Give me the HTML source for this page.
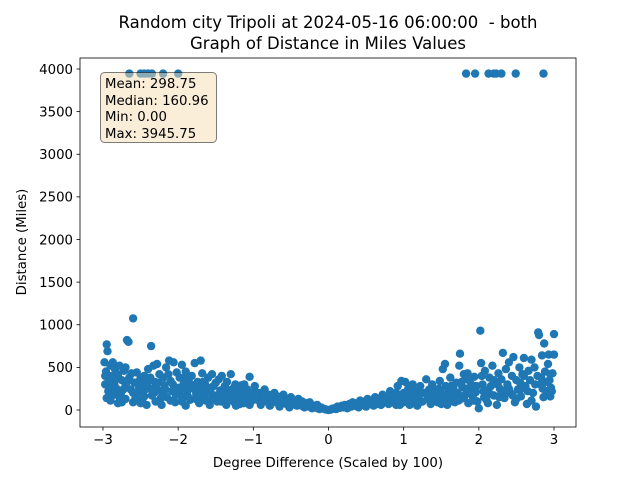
<!DOCTYPE html>
<html><head><meta charset="utf-8"><style>
html,body{margin:0;padding:0;background:#fff}
svg text{font-family:"DejaVu Sans","Liberation Sans",sans-serif;fill:#000}
</style></head><body>
<svg id="chart" width="640" height="480" viewBox="0 0 640 480" xmlns="http://www.w3.org/2000/svg">
<rect x="0" y="0" width="640" height="480" fill="#fff"/>
<text x="328" y="28" font-size="16.5" text-anchor="middle">Random city Tripoli at 2024-05-16 06:00:00&#160; - both</text>
<text x="328" y="49" font-size="16.5" text-anchor="middle">Graph of Distance in Miles Values</text>
<g id="points"></g>
<g id="axes"></g>
<g>
<rect x="100.5" y="72.5" width="116" height="70" rx="4" fill="#f5deb3" fill-opacity="0.5" stroke="#000" stroke-opacity="0.5"/>
<text x="105" y="88" font-size="13.3">Mean: 298.75</text>
<text x="105" y="105" font-size="13.3">Median: 160.96</text>
<text x="105" y="121" font-size="13.3">Min: 0.00</text>
<text x="105" y="138" font-size="13.3">Max: 3945.75</text>
</g>
<text x="328" y="467" font-size="13.3" text-anchor="middle">Degree Difference (Scaled by 100)</text>
<text x="0" y="0" font-size="13.3" text-anchor="middle" transform="translate(26,242) rotate(-90)">Distance (Miles)</text>
</svg>
<script>
const xTicks = [-3,-2,-1,0,1,2,3];
const yTicks = [0,500,1000,1500,2000,2500,3000,3500,4000];
const samples = [
[-2.98,560],[-2.97,300],[-2.96,450],[-2.95,770],[-2.94,690],[-2.93,220],[-2.92,380],[-2.9,520],[-2.9,110],[-2.88,400],[-2.87,560],[-2.85,300],[-2.84,480],[-2.82,250],[-2.8,80],[-2.8,420],[-2.78,520],[-2.76,200],[-2.75,350],[-2.72,460],[-2.7,130],[-2.7,280],[-2.68,820],[-2.66,800],[-2.65,380],[-2.63,240],[-2.6,1075],[-2.6,90],[-2.58,320],[-2.56,180],[-2.55,440],[-2.52,260],[-2.5,370],[-2.48,120],[-2.47,210],[-2.45,400],[-2.43,300],[-2.42,60],[-2.4,480],[-2.38,250],[-2.36,750],[-2.35,170],[-2.33,520],[-2.31,330],[-2.3,100],[-2.28,540],[-2.26,230],[-2.25,420],[-2.22,60],[-2.2,380],[-2.18,290],[-2.16,500],[-2.15,150],[-2.12,580],[-2.1,340],[-2.08,220],[-2.06,560],[-2.04,90],[-2.02,440],[-2.0,260],
[-1.98,380],[-1.96,160],[-1.95,530],[-1.93,300],[-1.9,50],[-1.9,450],[-1.88,220],[-1.86,360],[-1.84,120],[-1.82,400],[-1.8,280],[-1.78,550],[-1.76,180],[-1.74,330],[-1.72,80],[-1.7,580],[-1.7,250],[-1.68,430],[-1.66,140],[-1.64,300],[-1.62,200],[-1.6,380],[-1.58,60],[-1.56,260],[-1.55,420],[-1.52,170],[-1.5,320],[-1.48,100],[-1.46,360],[-1.44,230],[-1.42,400],[-1.4,140],[-1.38,280],[-1.36,60],[-1.35,330],[-1.32,190],[-1.3,420],[-1.28,110],[-1.26,260],[-1.24,300],[-1.22,150],[-1.2,220],[-1.18,70],[-1.16,290],[-1.14,180],[-1.12,300],[-1.1,120],[-1.08,240],[-1.06,90],[-1.05,390],[-1.03,160],[-1.0,200],
[-2.95,140],[-2.9,250],[-2.85,180],[-2.75,90],[-2.7,500],[-2.6,200],[-2.5,80],[-2.45,160],[-2.4,330],[-2.3,270],[-2.2,200],[-2.1,110],[-1.95,100],[-1.85,250],[-1.75,120],[-1.65,220],[-1.55,130],[-1.45,190],[-1.35,240],[-1.25,90],[-1.15,130],[-1.05,60],
[-2.97,400],[-2.93,330],[-2.88,200],[-2.83,360],[-2.78,150],[-2.73,240],[-2.68,330],[-2.62,430],[-2.57,130],[-2.53,330],[-2.44,240],[-2.37,380],[-2.32,200],[-2.27,320],[-2.23,140],[-2.17,240],[-2.13,420],[-2.07,300],[-2.03,180],[-1.97,240],[-1.92,380],[-1.87,160],[-1.83,300],[-1.77,230],[-1.73,180],[-1.67,330],[-1.63,110],[-1.57,200],[-1.53,280],[-1.47,150],[-1.43,100],[-1.37,180],[-1.33,120],[-1.27,200],[-1.23,50],[-1.17,230],[-1.13,80],[-1.07,170],[-1.02,110],
[-0.98,280],[-0.95,120],[-0.93,200],[-0.9,60],[-0.88,150],[-0.85,240],[-0.82,100],[-0.8,180],[-0.78,50],[-0.75,140],[-0.72,200],[-0.7,90],[-0.68,160],[-0.65,40],[-0.62,130],[-0.6,180],[-0.58,80],[-0.55,120],[-0.52,30],[-0.5,150],[-0.48,90],[-0.45,110],[-0.42,50],[-0.4,130],[-0.38,70],[-0.35,100],[-0.32,30],[-0.3,80],[-0.28,60],[-0.25,90],[-0.22,20],[-0.2,50],[-0.18,40],[-0.15,60],[-0.12,10],[-0.1,30],[-0.08,20],[-0.05,10],[-0.03,5],[0,0],[-0.9,160],[-0.7,130],[-0.5,60],[-0.6,100],[-0.8,90],
[-0.96,170],[-0.86,110],[-0.76,100],[-0.66,110],[-0.56,70],[-0.46,70],[-0.36,50],[-0.26,40],[-0.16,25],
[0.03,5],[0.05,15],[0.08,20],[0.1,10],[0.12,40],[0.15,25],[0.18,50],[0.2,30],[0.22,60],[0.25,20],[0.28,70],[0.3,40],[0.32,90],[0.35,50],[0.38,80],[0.4,30],[0.42,110],[0.45,60],[0.48,100],[0.5,40],[0.52,130],[0.55,70],[0.58,110],[0.6,50],[0.62,150],[0.65,90],[0.68,130],[0.7,60],[0.72,180],[0.75,100],[0.78,150],[0.8,70],[0.82,220],[0.85,120],[0.88,170],[0.9,60],[0.92,280],[0.95,130],[0.97,340],[1.0,200],[1.0,90],[0.6,100],[0.7,120],[0.8,160],[0.9,200],[0.95,60],
[0.46,80],[0.56,90],[0.66,70],[0.76,120],[0.86,90],[0.93,110],[0.98,160],
[1.02,330],[1.04,150],[1.06,250],[1.08,60],[1.1,180],[1.12,300],[1.14,110],[1.16,220],[1.18,50],[1.2,160],[1.22,280],[1.25,100],[1.28,200],[1.3,360],[1.32,130],[1.34,240],[1.36,70],[1.38,300],[1.4,170],[1.42,230],[1.45,90],[1.48,340],[1.5,200],[1.52,480],[1.53,130],[1.55,540],[1.56,280],[1.58,60],[1.6,220],[1.62,380],[1.64,150],[1.66,260],[1.68,90],[1.7,320],[1.72,200],[1.74,520],[1.75,660],[1.76,130],[1.78,270],[1.8,420],[1.82,180],[1.84,360],[1.85,430],[1.86,80],[1.88,240],[1.9,300],[1.92,150],[1.94,390],[1.96,210],[1.98,100],[2.0,20],[1.2,80],[1.4,120],[1.6,100],[1.8,140],[1.5,70],[1.7,150],[1.9,200],
[1.05,100],[1.15,150],[1.24,200],[1.33,170],[1.43,150],[1.47,250],[1.57,170],[1.63,280],[1.67,190],[1.73,110],[1.77,330],[1.83,250],[1.87,350],[1.93,110],[1.97,280],
[2.02,930],[2.03,550],[2.05,300],[2.07,150],[2.08,460],[2.1,230],[2.12,80],[2.14,380],[2.16,280],[2.18,520],[2.2,170],[2.22,330],[2.24,60],[2.26,430],[2.28,250],[2.3,360],[2.32,670],[2.34,140],[2.36,480],[2.38,300],[2.4,560],[2.42,200],[2.44,400],[2.46,620],[2.48,90],[2.5,350],[2.52,240],[2.54,500],[2.56,160],[2.58,420],[2.6,610],[2.62,280],[2.64,70],[2.66,460],[2.68,350],[2.7,590],[2.72,200],[2.74,500],[2.76,40],[2.78,400],[2.79,910],[2.8,880],[2.82,300],[2.84,640],[2.86,150],[2.87,780],[2.88,450],[2.9,220],[2.92,540],[2.93,650],[2.94,350],[2.95,420],[2.96,260],[2.98,430],[3.0,890],[3.0,650],[2.1,120],[2.3,200],[2.5,130],[2.7,110],[2.9,180],[2.6,400],[2.4,250],[2.2,350],[2.95,160],
[2.06,220],[2.15,190],[2.25,300],[2.35,230],[2.45,170],[2.55,320],[2.65,220],[2.75,300],[2.85,250],[2.91,330],[2.97,220],[2.04,400],[2.27,150],[2.57,250],[2.83,380]
,
[-2.65,3946],[-2.5,3946],[-2.45,3946],[-2.4,3946],[-2.35,3946],[-2.2,3946],[-2.0,3946],[1.83,3946],[1.95,3946],[2.13,3946],[2.2,3946],[2.23,3946],[2.3,3946],[2.49,3946],[2.86,3946]
];
const NS='http://www.w3.org/2000/svg';
const L=80,R=576,T=58,B=427;
function xs(v){return 328.5+v*75.17;}
function ys(v){return 410-v*0.08525;}
const pg=document.getElementById('points');
samples.forEach(function(p){
  const c=document.createElementNS(NS,'circle');
  c.setAttribute('cx',xs(p[0]).toFixed(1));
  c.setAttribute('cy',ys(p[1]).toFixed(1));
  c.setAttribute('r','4.2');
  c.setAttribute('fill','#1f77b4');
  
  
  pg.appendChild(c);
});
const ax=document.getElementById('axes');
const frame=document.createElementNS(NS,'rect');
frame.setAttribute('x',L);frame.setAttribute('y',T);frame.setAttribute('width',R-L);frame.setAttribute('height',B-T);
frame.setAttribute('fill','none');frame.setAttribute('stroke','#000');frame.setAttribute('stroke-width','0.8');


ax.appendChild(frame);
xTicks.forEach(function(t){
  const x=xs(t);
  const l=document.createElementNS(NS,'line');
  l.setAttribute('x1',x);l.setAttribute('x2',x);l.setAttribute('y1',B);l.setAttribute('y2',B+3.5);
  l.setAttribute('stroke','#000');l.setAttribute('stroke-width','0.8');
  
  
  ax.appendChild(l);
  const tx=document.createElementNS(NS,'text');
  tx.setAttribute('x',x);tx.setAttribute('y',B+17);tx.setAttribute('font-size','13.3');tx.setAttribute('text-anchor','middle');
  tx.textContent=(t<0?'\u2212'+(-t):String(t));
  
  
  ax.appendChild(tx);
});
yTicks.forEach(function(t){
  const y=ys(t);
  const l=document.createElementNS(NS,'line');
  l.setAttribute('x1',L-3.5);l.setAttribute('x2',L);l.setAttribute('y1',y);l.setAttribute('y2',y);
  l.setAttribute('stroke','#000');l.setAttribute('stroke-width','0.8');
  
  
  ax.appendChild(l);
  const tx=document.createElementNS(NS,'text');
  tx.setAttribute('x',L-7);tx.setAttribute('y',y+4.8);tx.setAttribute('font-size','13.3');tx.setAttribute('text-anchor','end');
  tx.textContent=String(t);
  
  
  ax.appendChild(tx);
});
</script>
</body></html>
